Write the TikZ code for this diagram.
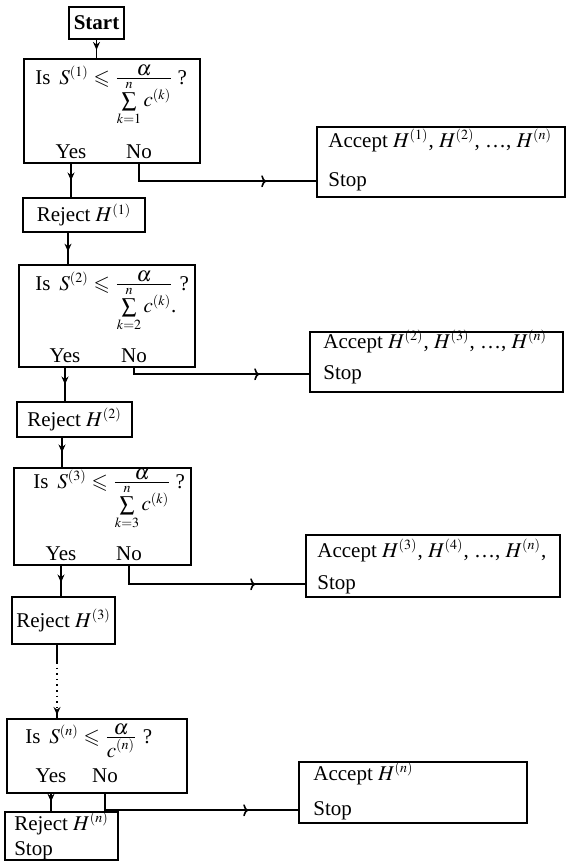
\documentclass[tikz,border=0pt]{standalone}
\usepackage{amsmath}
\usepackage{amssymb}
\usepackage{mathptmx}
\usepackage{fontspec}
\setmainfont{Liberation Serif}
\DeclareMathSizes{10.5}{10.5}{7}{5}
\usetikzlibrary{arrows.meta,decorations.markings}
\newcommand{\myfrac}[2]{\frac{\textstyle #1}{\textstyle #2}}
\tikzset{
  sz/.style 2 args={minimum width=#1*0.5pt, minimum height=#2*0.5pt},
  box/.style={draw, line width=0.8pt, inner sep=0pt},
  lbl/.style={anchor=base west, inner sep=0pt},
  yn/.style={anchor=base, inner sep=0pt},
  conn/.style={line width=0.8pt},
  varr/.style={conn, postaction=decorate, decoration={markings, mark=at position #1 with {\arrow{Stealth[length=4pt,width=3.5pt]}}}},
  harr/.style={conn, postaction=decorate, decoration={markings, mark=at position -25pt with {\arrow{To[length=2.5pt,width=6pt]}}}}
}
\begin{document}
\begin{tikzpicture}[x=0.5pt,y=-0.5pt,font=\fontsize{10.5}{12.5}\selectfont]
\useasboundingbox (0,0) rectangle (566,863);
% Start
\node[box, sz={55}{32}] (start) at (96.5,23) {\textbf{Start}};
% Decision 1
\node[box, sz={176}{104}] (d1) at (112,111) {};
\node[lbl] (q1) at (35,84) {Is\, $S^{(1)}\leqslant\myfrac{\alpha}{\sum\limits_{k=1}^{n} c^{(k)}}$\hspace{2pt}?};
\node[yn] (y1) at (71,158) {Yes};
\node[yn] (n1) at (139,158) {No};
\node[box, sz={248}{70}] (a1) at (441,162) {};
\node[lbl] (t1) at (328,147) {Accept $H^{(1)}$, $H^{(2)}$, \dots, $H^{(n)}$};
\node[lbl] (s1) at (328,186) {Stop};
\node[box, sz={122}{34}] (r1) at (84,215) {Reject $H^{(1)}$};
% Decision 2
\node[box, sz={176}{102}] (d2) at (107,316) {};
\node[lbl] (q2) at (35,290) {Is\, $S^{(2)}\leqslant\myfrac{\alpha}{\sum\limits_{k=2}^{n} c^{(k)}\rlap{.}}$\hspace{3pt}?};
\node[yn] (y2) at (65,362) {Yes};
\node[yn] (n2) at (134,362) {No};
\node[box, sz={253}{60}] (a2) at (436.5,362) {};
\node[lbl] (t2) at (323,348) {Accept $H^{(2)}$, $H^{(3)}$, \dots, $H^{(n)}$};
\node[lbl] (s2) at (323,379) {Stop};
\node[box, sz={115}{35}] (r2) at (74.5,419.5) {Reject $H^{(2)}$};
% Decision 3
\node[box, sz={177}{97}] (d3) at (102.5,516.5) {};
\node[lbl] (q3) at (33,488) {Is\, $S^{(3)}\leqslant\myfrac{\alpha}{\sum\limits_{k=3}^{n} c^{(k)}}$\hspace{2pt}?};
\node[yn] (y3) at (61,560) {Yes};
\node[yn] (n3) at (129,560) {No};
\node[box, sz={254}{62}] (a3) at (433,566) {};
\node[lbl] (t3) at (317,557) {Accept $H^{(3)}$, $H^{(4)}$, \dots, $H^{(n)}$,};
\node[lbl] (s3) at (317,589) {Stop};
\node[box, sz={103}{47}] (r3) at (63.5,620.5) {Reject $H^{(3)}$};
% Decision n
\node[box, sz={180}{74}] (dn) at (97,756) {};
\node[lbl] (qn) at (25,743) {Is\, $S^{(n)}\leqslant\myfrac{\alpha}{c^{(n)}}$ ?};
\node[yn] (yn1) at (51,782) {Yes};
\node[yn] (nn) at (105,782) {No};
\node[box, sz={228}{61}] (a4) at (413,792.5) {};
\node[lbl] (t4) at (313,780) {Accept $H^{(n)}$};
\node[lbl] (s4) at (313,815) {Stop};
\node[box, sz={113}{44}, align=left] (rn) at (61.5,836) {Reject $H^{(n)}$\\Stop};
% helper x positions
\coordinate (c1) at (68,0);
\coordinate (c2) at (62,0);
\coordinate (c3) at (57,0);
\coordinate (dotA) at (57,662);
\coordinate (dotB) at (57,710);
% connectors
\draw[varr=0.55] (start.south) -- (start.south |- d1.north);
\draw[varr=0.5] (y1 |- d1.south) -- (y1 |- r1.north);
\draw[harr] (n1 |- d1.south) |- (a1.west |- s1.center);
\draw[varr=0.6] (r1.south -| c1) -- (c1 |- d2.north);
\draw[varr=0.5] (y2 |- d2.south) -- (y2 |- r2.north);
\draw[harr] (n2 |- d2.south) |- (a2.west |- s2.center);
\draw[varr=0.5] (r2.south -| c2) -- (c2 |- d3.north);
\draw[varr=0.55] (y3 |- d3.south) -- (y3 |- r3.north);
\draw[harr] (n3 |- d3.south) |- (a3.west |- s3.center);
\draw[conn] (r3.south -| c3) -- (dotA);
\draw[conn, dotted] (dotA) -- (dotB);
\draw[varr=0.6] (dotB) -- (c3 |- dn.north);
\draw[varr=0.45] (yn1 |- dn.south) -- (yn1 |- rn.north);
\draw[harr] (nn |- dn.south) |- (a4.west |- s4.center);
\end{tikzpicture}
\end{document}
